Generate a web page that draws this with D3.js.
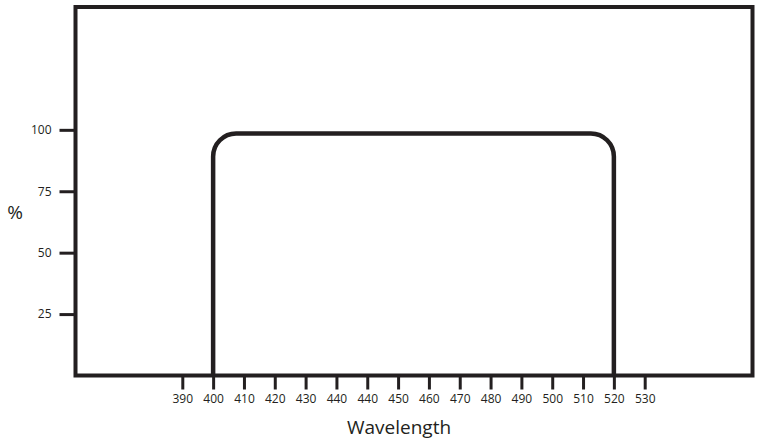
<!DOCTYPE html>
<html>
<head>
<meta charset="utf-8">
<script src="https://cdn.jsdelivr.net/npm/d3@7"></script>
<style>
  body { margin: 0; background: #fff; }
  svg text { font-family: "Open Sans", sans-serif; fill: #231f20; }
</style>
</head>
<body>
<div id="chart-area"></div>
<script>
// tick labels as printed on the chart (440 appears twice)
var xLabels = [390, 400, 410, 420, 430, 440, 440, 450, 460, 470, 480, 490, 500, 510, 520, 530]
var yTicks = [25, 50, 75, 100]

// pass band: edges sit on the "400" and "520" ticks, plateau near 98.5 %
var bandStart = 400
var bandEnd = 520
var bandLevel = 98.5
var bandFloor = 0

var width = 760
var height = 447
var ink = "#231f20"

var svg = d3.select("#chart-area")
    .append("svg")
    .attr("width", width)
    .attr("height", height)

// plot frame edges (window.top is reserved, so prefixed names)
var frameLeft = 75.5, frameRight = 752.5, frameTop = 7, frameBottom = 375.5

var x = d3.scaleLinear().domain([0, xLabels.length - 1]).range([182.3, 644.7])
var y = d3.scaleLinear().domain([0, 150]).range([frameBottom, frameTop])

// frame
svg.append("rect")
    .attr("x", frameLeft)
    .attr("y", frameTop)
    .attr("width", frameRight - frameLeft)
    .attr("height", frameBottom - frameTop)
    .attr("fill", "none")
    .attr("stroke", ink)
    .attr("stroke-width", 4)

// left axis
var leftAxis = d3.axisLeft(y).tickValues(yTicks).tickSize(16).tickPadding(8)
var gl = svg.append("g")
    .attr("transform", `translate(${frameLeft}, 0)`)
    .call(leftAxis)
gl.select(".domain").remove()
gl.selectAll("line").attr("stroke", ink).attr("stroke-width", 3)
gl.selectAll("text").attr("font-size", "12px").style("fill", ink)

// bottom axis
var bottomAxis = d3.axisBottom(x)
    .tickValues(d3.range(xLabels.length))
    .tickFormat((i) => xLabels[i])
    .tickSize(14)
    .tickPadding(5)
var gb = svg.append("g")
    .attr("transform", `translate(0, ${frameBottom})`)
    .call(bottomAxis)
gb.select(".domain").remove()
gb.selectAll("line").attr("stroke", ink).attr("stroke-width", 3)
gb.selectAll("text").attr("font-size", "12px").style("fill", ink)

// axis titles
svg.append("text")
    .attr("x", 399)
    .attr("y", 434)
    .attr("font-size", "19px")
    .attr("text-anchor", "middle")
    .text("Wavelength")

svg.append("text")
    .attr("x", 15)
    .attr("y", 219)
    .attr("font-size", "19px")
    .attr("text-anchor", "middle")
    .text("%")

// band curve with rounded shoulders
var x0 = x(xLabels.indexOf(bandStart))
var x1 = x(xLabels.lastIndexOf(bandEnd))
var yTop = y(bandLevel)
var yBot = y(bandFloor)
var r = 23
var p = d3.path()
p.moveTo(x0, yBot)
p.arcTo(x0, yTop, x1, yTop, r)
p.arcTo(x1, yTop, x1, yBot, r)
p.lineTo(x1, yBot)

svg.append("path")
    .attr("d", p.toString())
    .attr("fill", "none")
    .attr("stroke", ink)
    .attr("stroke-width", 4.5)
</script>
</body>
</html>
